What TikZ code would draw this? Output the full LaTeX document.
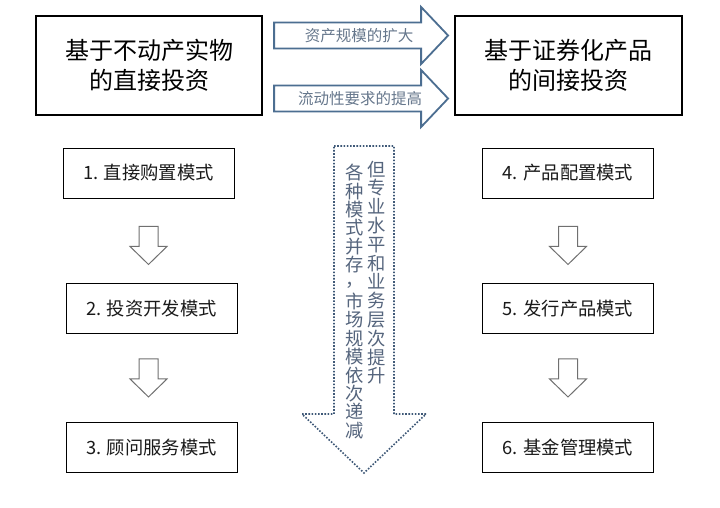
\documentclass[tikz,border=0pt]{standalone}
\usepackage{fontspec}
\setmainfont{Noto Sans CJK SC}
\usetikzlibrary{calc}
\definecolor{arrowblue}{HTML}{4C6E91}
\definecolor{labelgray}{HTML}{66778C}
\definecolor{dotblue}{HTML}{3E5877}
\definecolor{vtext}{HTML}{55657D}
\definecolor{blkgray}{HTML}{707070}
\definecolor{boxtext}{HTML}{1A1A1A}
\tikzset{
  bigbox/.style={draw=black, line width=2.2pt, fill=white, minimum width=226pt, minimum height=99pt, align=center, inner sep=0pt,
    font=\fontsize{24}{30}\selectfont},
  modebox/.style={draw=black, line width=0.9pt, fill=white, minimum width=171pt, minimum height=50pt, inner sep=0pt,
    text=boxtext, font=\fontsize{18.3}{20}\selectfont},
  blkarrow/.style={draw=blkgray, line width=1pt, fill=white, line join=miter},
  toparrow/.style={draw=arrowblue, line width=1.8pt, fill=white, line join=miter},
  toplabel/.style={text=labelgray, inner sep=0pt, font=\fontsize{15.5}{18}\selectfont},
  vcol/.style={text=vtext, inner sep=0pt, anchor=north, align=center, font=\fontsize{18.3}{18.8}\selectfont},
  downblk/.pic={
    \draw[blkarrow] (-9.5,0) -- (9.5,0) -- (9.5,20) -- (18.5,20) -- (0,38) -- (-18.5,20) -- (-9.5,20) -- cycle;
  },
  rightblk/.pic={
    \draw[toparrow] (0,-13) -- (147,-13) -- (147,-28.5) -- (174,0) -- (147,28.5) -- (147,13) -- (0,13) -- cycle;
  }
}
\begin{document}
\begin{tikzpicture}[x=1pt, y=-1pt]
\useasboundingbox (0,0) rectangle (720,508);
\fill[white] (0,0) rectangle (720,508);

% big boxes
\node[bigbox] (L) at (149,65.5) {基于不动产实物\\的直接投资};
\node[bigbox, minimum width=227pt] (R) at (568.5,65.5) {基于证券化产品\\的间接投资};

% top block arrows between the big boxes
\coordinate (t1) at ($(L.east)+(11,-30)$);
\coordinate (t2) at ($(L.east)+(11,33)$);
\path (t1) pic{rightblk};
\path (t2) pic{rightblk};
\node[toplabel] (lab1) at ($(t1)+(85,0)$) {资产规模的扩大};
\node[toplabel] (lab2) at ($(t2)+(86,0)$) {流动性要求的提高};

% mode boxes
\node[modebox] (b1) at (148.5,173) {1. 直接购置模式};
\node[modebox] (b2) at (151.5,308.5) {2. 投资开发模式};
\node[modebox] (b3) at (151.5,447.5) {3. 顾问服务模式};
\node[modebox] (b4) at (568,173) {4. 产品配置模式};
\node[modebox] (b5) at (568,308.5) {5. 发行产品模式};
\node[modebox] (b6) at (568,447.5) {6. 基金管理模式};

% down block arrows between mode boxes
\path ($(b1.south)+(0,28)$) pic{downblk};
\path ($(b2.south)+(-3,25)$) pic{downblk};
\path ($(b4.south)+(0,28)$) pic{downblk};
\path ($(b5.south)+(0,25)$) pic{downblk};

% central dotted arrow
\draw[draw=dotblue, line width=1.6pt, dash pattern=on 1.6pt off 1.6pt, line join=miter]
  (334,146) -- (394,146) -- (394,414) -- (426,414) -- (364,473) -- (302,414) -- (334,414) -- cycle;
\node[vcol] (vr) at (377,160.5) {但\\专\\业\\水\\平\\和\\业\\务\\层\\次\\提\\升};
\node[vcol, font=\fontsize{18.3}{18.4}\selectfont] (vl) at (354.5,164) {各\\种\\模\\式\\并\\存\\\raisebox{0.2em}{，}\\市\\场\\规\\模\\依\\次\\递\\减};
\end{tikzpicture}
\end{document}
